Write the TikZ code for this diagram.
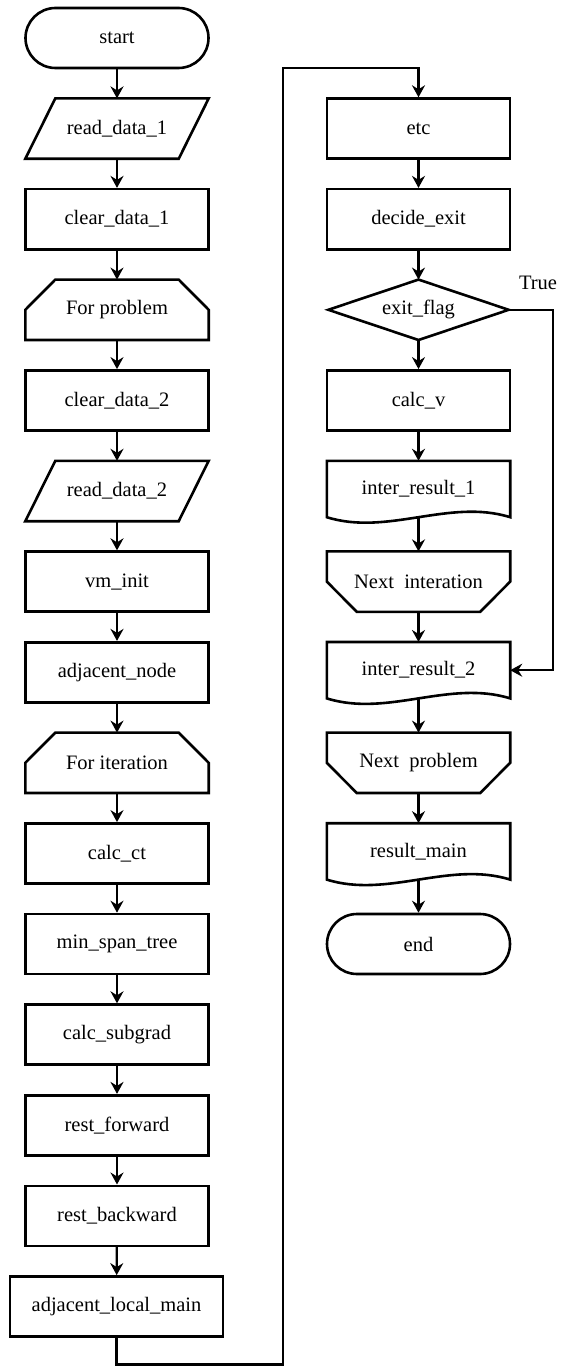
\documentclass[tikz,border=0pt]{standalone}
\usepackage{fontspec}
\setmainfont{Liberation Serif}
\usetikzlibrary{arrows.meta}
\begin{document}
\begin{tikzpicture}[x=1pt,y=-1pt,
  every node/.style={font=\fontsize{20.5}{24}\selectfont, inner sep=0pt},
  box/.style={draw, line width=2.6pt, minimum width=183pt, minimum height=60pt},
  term/.style={box, rounded corners=30pt},
  plain/.style={minimum width=183pt, minimum height=60pt},
  docu/.style={minimum width=183pt, minimum height=56pt},
  outline/.style={line width=2.6pt, line join=miter},
  conn/.style={line width=2.3pt, -{Stealth[length=12pt,width=13pt,inset=4pt]}},
]
\useasboundingbox (0,0) rectangle (560,1367);

% ---------- left column ----------
\node[term] (start) at (117,38) {start};
\node[plain] (rd1) at (117,128.6) {read\_data\_1};
\node[box] (cd1) at (117,219.2) {clear\_data\_1};
\node[plain] (fp) at (117,309.8) {For problem};
\node[box] (cd2) at (117,400.4) {clear\_data\_2};
\node[plain] (rd2) at (117,491.0) {read\_data\_2};
\node[box] (vm) at (117,581.6) {vm\_init};
\node[box] (adj) at (117,672.2) {adjacent\_node};
\node[plain] (fi) at (117,762.8) {For iteration};
\node[box] (cct) at (117,853.4) {calc\_ct};
\node[box] (mst) at (117,944.0) {min\_span\_tree};
\node[box] (csg) at (117,1034.6) {calc\_subgrad};
\node[box] (rf) at (117,1125.2) {rest\_forward};
\node[box] (rb) at (117,1215.8) {rest\_backward};
\node[box, minimum width=213pt] (alm) at (116.5,1306.4) {adjacent\_local\_main};

% parallelograms
\foreach \n in {rd1,rd2}{
  \draw[outline] ([xshift=30pt]\n.north west) -- (\n.north east)
    -- ([xshift=-30pt]\n.south east) -- (\n.south west) -- cycle;
}
% loop start (top chamfer)
\foreach \n in {fp,fi}{
  \draw[outline] (\n.south west) -- (\n.west) -- ([xshift=30pt]\n.north west)
    -- ([xshift=-30pt]\n.north east) -- (\n.east) -- (\n.south east) -- cycle;
}

% ---------- right column ----------
\node[box] (etc) at (418.5,128.6) {etc};
\node[box] (de) at (418.5,219.2) {decide\_exit};
\node[plain, minimum width=180pt] (ef) at (418.5,309.8) {exit\_flag};
\node[box] (cv) at (418.5,400.4) {calc\_v};
\node[docu] (ir1) at (418.5,489.0) {inter\_result\_1};
\node[plain] (ni) at (418.5,581.6) {Next\ \ interation};
\node[docu] (ir2) at (418.5,670.2) {inter\_result\_2};
\node[plain] (np) at (418.5,762.8) {Next\ \ problem};
\node[docu] (rm) at (418.5,851.4) {result\_main};
\node[term] (end) at (418.5,944.0) {end};

% diamond
\draw[outline] (ef.north) -- (ef.east) -- (ef.south) -- (ef.west) -- cycle;
% loop end (bottom chamfer)
\foreach \n in {ni,np}{
  \draw[outline] (\n.north west) -- (\n.north east) -- (\n.east)
    -- ([xshift=-30pt]\n.south east) -- ([xshift=30pt]\n.south west) -- (\n.west) -- cycle;
}
% documents
\foreach \n in {ir1,ir2,rm}{
  \draw[outline] (\n.south west) -- (\n.north west) -- (\n.north east) -- (\n.south east)
    .. controls ([shift={(-61pt,19pt)}]\n.south east) and ([shift={(61pt,-19pt)}]\n.south west)
    .. (\n.south west) -- cycle;
}

% ---------- connectors ----------
\draw[conn] (start) -- (rd1);
\draw[conn] (rd1) -- (cd1);
\draw[conn] (cd1) -- (fp);
\draw[conn] (fp) -- (cd2);
\draw[conn] (cd2) -- (rd2);
\draw[conn] (rd2) -- (vm);
\draw[conn] (vm) -- (adj);
\draw[conn] (adj) -- (fi);
\draw[conn] (fi) -- (cct);
\draw[conn] (cct) -- (mst);
\draw[conn] (mst) -- (csg);
\draw[conn] (csg) -- (rf);
\draw[conn] (rf) -- (rb);
\draw[conn] (rb) -- (alm);

\coordinate (lb) at (283,1364.5);
\coordinate (lt) at (283,68);
\draw[conn] (alm.south) |- (lb) -- (lt) -| (etc.north);

\draw[conn] (etc) -- (de);
\draw[conn] (de) -- (ef);
\draw[conn] (ef) -- (cv);
\draw[conn] (cv) -- (ir1);
\draw[conn] (ir1) -- (ni);
\draw[conn] (ni) -- (ir2);
\draw[conn] (ir2) -- (np);
\draw[conn] (np) -- (rm);
\draw[conn] (rm) -- (end);

\coordinate (tc) at (553,309.8);
\draw[conn, line width=2pt] (ef.east) -- (tc) |- (ir2.east);
\node (true) at (538,283) {True};
\end{tikzpicture}
\end{document}
